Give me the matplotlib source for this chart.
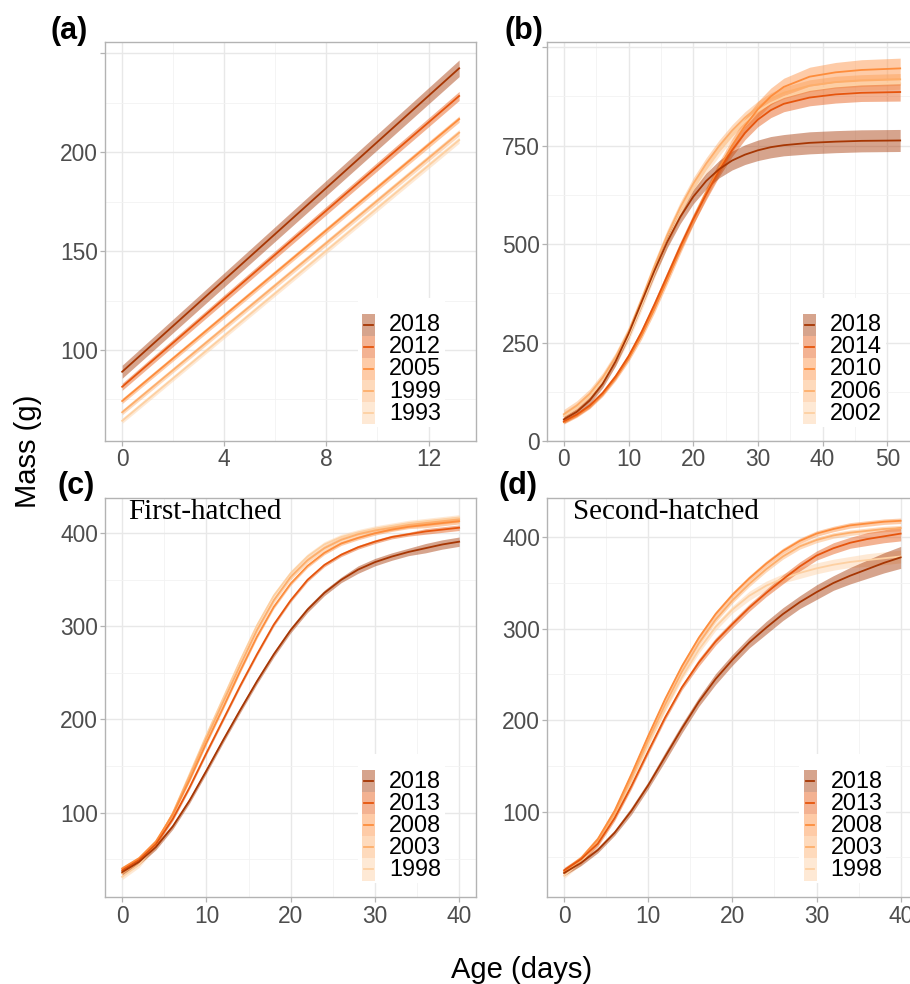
import numpy as np
import matplotlib
matplotlib.use('Agg')
import matplotlib.pyplot as plt
from matplotlib.patches import Rectangle

plt.rcParams['font.family'] = ['Liberation Sans', 'DejaVu Sans']

# ---------------- data ----------------
colors = ['#a63603', '#e6550d', '#fd8d3c', '#fdae6b', '#fdd0a2']

# (a)
ages_a = [0, 13.2]
years_a = ['2018', '2012', '2005', '1999', '1993']
a_2018 = [89.0, 242.5]
a_2012 = [81.4, 228.5]
a_2005 = [74.2, 216.8]
a_1999 = [68.5, 209.9]
a_1993 = [64.2, 206.2]
hw_a_2018 = [3.3, 4.2]
hw_a_2012 = [1.8, 2.3]
hw_a_2005 = [1.3, 1.6]
hw_a_1999 = [1.3, 1.6]
hw_a_1993 = [1.3, 1.6]

# (b)
ages_b = [0, 2, 4, 6, 8, 10, 12, 14, 16, 18, 20, 22, 24, 26, 28, 30, 32, 34, 38, 42, 46, 52]
years_b = ['2018', '2014', '2010', '2006', '2002']
b_2018 = [55, 74, 103, 145, 202, 272, 352, 432, 506, 569, 620, 660, 690, 712, 727, 738, 746, 751, 757, 760, 762, 763]
b_2014 = [50, 67, 90, 122, 164, 215, 276, 346, 420, 494, 563, 626, 686, 738, 782, 816, 840, 856, 872, 880, 884, 886]
b_2010 = [48, 65, 88, 119, 160, 209, 267, 335, 410, 487, 561, 630, 693, 750, 800, 842, 875, 899, 925, 936, 942, 946]
b_2006 = [68, 90, 120, 161, 213, 277, 358, 443, 523, 593, 653, 704, 749, 788, 821, 848, 869, 884, 902, 911, 915, 918]
b_2002 = [63, 84, 113, 152, 203, 265, 343, 427, 507, 578, 639, 692, 738, 778, 811, 838, 858, 873, 891, 900, 905, 908]
hw_b_2018 = [8, 8, 9, 10, 11, 12, 13, 14, 15, 17, 18, 20, 22, 24, 25, 26, 27, 27, 28, 28, 28, 28]
hw_b_2014 = [5, 5, 6, 6, 7, 8, 9, 10, 11, 12, 13, 14, 15, 16, 17, 18, 19, 20, 21, 22, 22, 23]
hw_b_2010 = [5, 5, 6, 6, 7, 8, 9, 10, 11, 12, 13, 14, 16, 17, 19, 20, 21, 22, 24, 25, 26, 26]
hw_b_2006 = [12, 12, 12, 12, 12, 13, 13, 14, 14, 14, 15, 15, 15, 15, 15, 15, 15, 15, 15, 15, 15, 15]
hw_b_2002 = [12, 12, 12, 12, 12, 13, 13, 14, 14, 14, 15, 15, 15, 15, 15, 15, 15, 15, 15, 15, 15, 15]

# (c) first-hatched
ages_cd = [0, 2, 4, 6, 8, 10, 12, 14, 16, 18, 20, 22, 24, 26, 28, 30, 32, 34, 36, 38, 40]
years_cd = ['2018', '2013', '2008', '2003', '1998']
c_2018 = [36, 47, 63, 85, 113, 145, 178, 210, 241, 270, 296, 318, 336, 350, 361, 369, 375, 380, 384, 388, 391]
c_2013 = [38, 49, 66, 93, 127, 164, 200, 236, 270, 302, 328, 350, 366, 377, 385, 391, 396, 399, 402, 404, 406]
c_2008 = [40, 51, 69, 98, 135, 175, 213, 252, 289, 321, 346, 365, 379, 389, 395, 400, 404, 407, 409, 411, 413]
c_2003 = [35, 47, 67, 99, 139, 180, 219, 258, 296, 328, 353, 371, 384, 393, 399, 403, 406, 409, 411, 413, 415]
c_1998 = [31, 44, 65, 99, 141, 183, 223, 263, 301, 333, 357, 375, 388, 396, 401, 405, 408, 411, 413, 415, 417]
hw_c_2018 = [3, 3, 3, 3, 3, 3, 3, 3, 3, 3, 3, 3, 3, 3, 4, 4, 4, 4, 5, 5, 5]
hw_c_2013 = [2, 2, 2, 2, 2, 2, 2, 2, 2, 2, 2, 2, 2, 2, 2, 2, 2, 2, 3, 3, 3]
hw_c_2008 = [2, 2, 2, 2, 2, 2, 2, 2, 2, 2, 2, 2, 2, 2, 2, 2, 2, 2, 3, 3, 3]
hw_c_2003 = [3, 3, 3, 3, 3, 3, 3, 3, 3, 3, 3, 3, 3, 3, 3, 3, 3, 3, 3, 3, 3]
hw_c_1998 = [3, 3, 3, 3, 3, 3, 3, 3, 3, 3, 3, 3, 3, 3, 3, 3, 3, 3, 3, 3, 3]

# (d) second-hatched
d_2018 = [33, 44, 58, 77, 101, 129, 160, 191, 220, 245, 266, 285, 301, 316, 329, 340, 350, 358, 365, 372, 378]
d_2013 = [36, 48, 65, 93, 128, 166, 203, 236, 263, 286, 305, 323, 339, 354, 368, 380, 388, 394, 398, 401, 404]
d_2008 = [35, 49, 70, 101, 141, 183, 223, 259, 290, 316, 337, 355, 371, 385, 396, 404, 409, 413, 415, 417, 418]
d_2003 = [33, 47, 68, 98, 137, 178, 217, 253, 284, 310, 331, 349, 365, 379, 390, 397, 402, 405, 407, 409, 410]
d_1998 = [30, 45, 66, 96, 134, 174, 212, 247, 277, 302, 321, 336, 347, 355, 361, 366, 370, 373, 375, 377, 379]
hw_d_2018 = [3, 3, 3, 3, 4, 4, 5, 5, 5, 6, 6, 6, 7, 7, 7, 8, 8, 9, 10, 11, 12]
hw_d_2013 = [3, 3, 3, 3, 3, 3, 3, 3, 4, 4, 4, 4, 4, 5, 5, 5, 6, 6, 7, 7, 8]
hw_d_2008 = [3, 3, 3, 3, 3, 3, 3, 3, 3, 3, 3, 3, 3, 3, 3, 3, 3, 3, 3, 3, 3]
hw_d_2003 = [3, 3, 3, 3, 3, 3, 3, 3, 3, 3, 3, 3, 3, 3, 3, 3, 3, 3, 3, 3, 3]
hw_d_1998 = [3, 3, 3, 3, 3, 3, 3, 3, 4, 4, 4, 5, 5, 5, 6, 6, 6, 6, 7, 7, 7]

# ---------------- figure ----------------
W, H = 910, 984
fig = plt.figure(figsize=(W / 100, H / 100), dpi=100)


def px_axes(l, t, r, b):
    return fig.add_axes([l / W, 1 - b / H, (r - l) / W, (b - t) / H])


GRID_MAJ = '#e8e8e8'
GRID_MIN = '#f2f2f2'
FRAME = '#b3b3b3'
TICKLAB = '#4d4d4d'


def style(ax, xlim, ylim, xmaj, xmin, ymaj, ymin, ylabels):
    ax.set_xlim(*xlim)
    ax.set_ylim(*ylim)
    ax.set_xticks(xmaj)
    ax.set_xticks(xmin, minor=True)
    ax.set_yticks(ymaj)
    ax.set_yticklabels(ylabels)
    ax.set_yticks(ymin, minor=True)
    ax.set_axisbelow(True)
    ax.grid(which='major', color=GRID_MAJ, lw=1.0)
    ax.grid(which='minor', color=GRID_MIN, lw=0.6)
    for s in ax.spines.values():
        s.set_color(FRAME)
        s.set_linewidth(1.0)
    ax.tick_params(which='major', length=3.7, width=0.9, color=FRAME,
                   labelsize=16.4, labelcolor=TICKLAB, pad=1.5)
    ax.tick_params(which='minor', length=0)


def draw_series(ax, ages, series, hws):
    x = np.array(ages, dtype=float)
    for v, hw, c in reversed(list(zip(series, hws, colors))):
        v = np.array(v, dtype=float)
        hw = np.array(hw, dtype=float)
        ax.fill_between(x, v - hw, v + hw, color=c, alpha=0.45, lw=0, zorder=2)
    for v, c in reversed(list(zip(series, colors))):
        ax.plot(x, v, color=c, lw=1.3, zorder=3, solid_joinstyle='round')


def draw_legend(ax, labels):
    ax.add_patch(Rectangle((0.681, 0.035), 0.235, 0.323, transform=ax.transAxes,
                           facecolor='white', edgecolor='none', zorder=5))
    row_h = 0.0554
    top = 0.319
    kx, kw = 0.6925, 0.035
    for i, (lab, c) in enumerate(zip(labels, colors)):
        y0 = top - (i + 1) * row_h
        ax.add_patch(Rectangle((kx, y0), kw, row_h, transform=ax.transAxes,
                               facecolor=c, alpha=0.45, edgecolor='none', zorder=6))
        ax.plot([kx + 0.006, kx + kw - 0.006], [y0 + row_h / 2] * 2,
                transform=ax.transAxes, color=c, lw=1.3, zorder=7)
        ax.text(0.765, y0 + row_h / 2, lab, transform=ax.transAxes,
                va='center', ha='left', fontsize=16.8, color='black', zorder=7)


# (a)
ax_a = px_axes(105.3, 42, 476, 441)
style(ax_a, (-0.66, 13.86), (53.97, 255.8), [0, 4, 8, 12], [2, 6, 10],
      [100, 150, 200, 250], [75, 125, 175, 225], ['100', '150', '200', ''])
draw_series(ax_a, ages_a, [a_2018, a_2012, a_2005, a_1999, a_1993],
            [hw_a_2018, hw_a_2012, hw_a_2005, hw_a_1999, hw_a_1993])
draw_legend(ax_a, years_a)

# (b)
ax_b = px_axes(547, 42, 917, 441)
style(ax_b, (-2.6, 54.6), (3, 1013), [0, 10, 20, 30, 40, 50], [5, 15, 25, 35, 45],
      [0, 250, 500, 750, 1000], [125, 375, 625, 875], ['0', '250', '500', '750', ''])
draw_series(ax_b, ages_b, [b_2018, b_2014, b_2010, b_2006, b_2002],
            [hw_b_2018, hw_b_2014, hw_b_2010, hw_b_2006, hw_b_2002])
draw_legend(ax_b, years_b)

# (c)
ax_c = px_axes(105.3, 498.3, 476, 897.3)
style(ax_c, (-2, 42), (9, 437.6), [0, 10, 20, 30, 40], [5, 15, 25, 35],
      [100, 200, 300, 400], [50, 150, 250, 350], ['100', '200', '300', '400'])
draw_series(ax_c, ages_cd, [c_2018, c_2013, c_2008, c_2003, c_1998],
            [hw_c_2018, hw_c_2013, hw_c_2008, hw_c_2003, hw_c_1998])
draw_legend(ax_c, years_cd)
ax_c.text(0.061, 0.998, 'First-hatched', transform=ax_c.transAxes, ha='left', va='top',
          fontsize=21, family=['Liberation Serif', 'DejaVu Serif'], color='black', zorder=8)

# (d)
ax_d = px_axes(547.3, 498.3, 917.5, 897.3)
style(ax_d, (-2, 42), (6.4, 442.6), [0, 10, 20, 30, 40], [5, 15, 25, 35],
      [100, 200, 300, 400], [50, 150, 250, 350], ['100', '200', '300', '400'])
draw_series(ax_d, ages_cd, [d_2018, d_2013, d_2008, d_2003, d_1998],
            [hw_d_2018, hw_d_2013, hw_d_2008, hw_d_2003, hw_d_1998])
draw_legend(ax_d, years_cd)
ax_d.text(0.069, 0.998, 'Second-hatched', transform=ax_d.transAxes, ha='left', va='top',
          fontsize=21, family=['Liberation Serif', 'DejaVu Serif'], color='black', zorder=8)

# panel labels
for lab, x, y in [('(a)', 50, 31.5), ('(b)', 504, 31.5), ('(c)', 58, 486), ('(d)', 498, 486)]:
    fig.text(x / W, 1 - y / H, lab, ha='left', va='center', fontsize=22, fontweight='bold')

# axis titles
fig.text(28 / W, 1 - 451 / H, 'Mass (g)', rotation=90, ha='center', va='center', fontsize=21)
fig.text(522 / W, 1 - 978 / H, 'Age (days)', ha='center', va='baseline', fontsize=21)

fig.savefig('out.png', dpi=100)
